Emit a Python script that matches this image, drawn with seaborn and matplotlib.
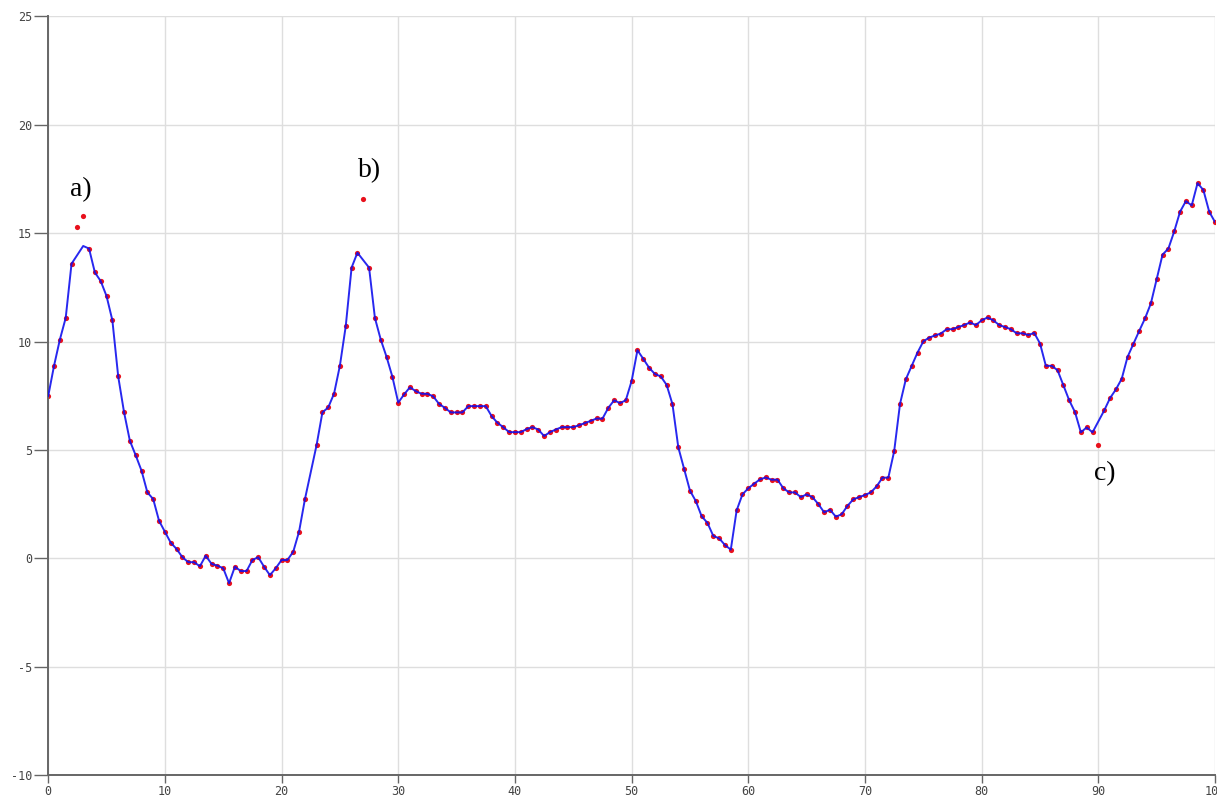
import numpy as np
import pandas as pd
import matplotlib
matplotlib.use("Agg")
import matplotlib.pyplot as plt
import seaborn as sns

# Sample grid: one reading every half unit from 0 to 100
x_step = 0.5

# Filtered signal drawn as the blue trace (NaN = no vertex at that sample)
signal = [
    7.48, 8.88, 10.09, 11.09, 13.59, np.nan, 14.41, 14.29, 13.19, 12.79,
    12.10, 10.98, 8.39, 6.74, 5.42, 4.75, 4.04, 3.04, 2.73, 1.73,
    1.23, 0.72, 0.43, 0.05, -0.18, -0.18, -0.37, 0.12, -0.26, -0.34,
    -0.46, -1.15, -0.39, -0.59, -0.59, -0.08, 0.05, -0.39, -0.78, -0.46,
    -0.08, -0.08, 0.30, 1.23, 2.72, np.nan, 5.22, 6.73, 6.96, 7.60,
    8.89, 10.71, 13.41, 14.10, np.nan, 13.41, 11.09, 10.09, 9.29, 8.37,
    7.18, 7.56, 7.89, 7.71, 7.59, 7.59, 7.47, 7.12, 6.94, 6.73,
    6.73, 6.73, 7.02, 7.02, 7.02, 7.02, 6.56, 6.25, 6.05, 5.82,
    5.82, 5.82, 5.96, 6.05, 5.94, 5.64, 5.82, 5.94, 6.05, 6.05,
    6.05, 6.14, 6.24, 6.34, 6.45, 6.44, 6.94, 7.29, 7.16, 7.29,
    8.18, 9.60, 9.20, 8.79, 8.50, 8.39, 8.00, 7.11, 5.12, 4.12,
    3.12, 2.64, 1.94, 1.63, 1.03, 0.92, 0.61, 0.40, 2.21, 2.95,
    3.23, 3.44, 3.64, 3.73, 3.62, 3.63, 3.23, 3.04, 3.04, 2.82,
    2.95, 2.82, 2.50, 2.12, 2.24, 1.92, 2.03, 2.42, 2.72, 2.82,
    2.92, 3.04, 3.32, 3.72, 3.72, 4.94, 7.12, 8.26, 8.88, 9.49,
    10.01, 10.18, 10.28, 10.37, 10.57, 10.57, 10.67, 10.76, 10.88, 10.76,
    10.98, 11.11, 10.98, 10.76, 10.67, 10.57, 10.38, 10.38, 10.30, 10.40,
    9.91, 8.88, 8.88, 8.68, 7.99, 7.29, 6.74, 5.81, 6.04, 5.81,
    np.nan, 6.82, 7.39, 7.79, 8.28, 9.29, 9.89, 10.49, 11.07, 11.76,
    12.88, 14.01, 14.29, 15.08, 15.99, 16.48, 16.28, 17.31, 16.99, 15.99,
    15.51,
]

# Raw readings that depart from the trace
outlier_idx = [5, 6, 54, 180]
outlier_vals = [15.28, 15.79, 16.59, 5.24]
# Trace vertices with no reading of their own
no_reading_idx = [6, 45]

# Callout labels
label_text = ["a)", "b)", "c)"]
label_x = [2.76, 27.56, 90.52]
label_y = [17.0, 17.87, 3.91]

x_ticks = list(range(0, 101, 10))
y_ticks = list(range(-10, 26, 5))

n = len(signal)
x = np.arange(n) * x_step
sig = np.array(signal, dtype=float)

line_df = pd.DataFrame({"x": x, "y": sig}).dropna()

raw = sig.copy()
raw[no_reading_idx] = np.nan
raw[outlier_idx] = outlier_vals
dots_df = pd.DataFrame({"x": x, "y": raw}).dropna()

sns.set_theme(style="whitegrid")
plt.rcParams["font.family"] = ["DejaVu Sans Mono", "DejaVu Sans"]
plt.rcParams["axes.unicode_minus"] = False

fig = plt.figure(figsize=(12.17, 7.96), dpi=100)
ax = fig.add_axes([0.0396, 0.0264, 0.9588, 0.9529])
ax.set_facecolor("white")

sns.scatterplot(data=dots_df, x="x", y="y", ax=ax, color="#e8101c", s=14,
                linewidth=0, zorder=2, legend=False)
sns.lineplot(data=line_df, x="x", y="y", ax=ax, color="#1010ee", lw=1.4,
             alpha=0.9, sort=False, estimator=None, zorder=3, legend=False)

for t, lx, ly in zip(label_text, label_x, label_y):
    ax.text(lx, ly, t, ha="center", va="center", fontsize=20,
            family="Liberation Serif", color="black", zorder=4)

ax.set_xlim(0, 100)
ax.set_ylim(-10, 25)
ax.set_xticks(x_ticks)
ax.set_yticks(y_ticks)
ax.set_xlabel("")
ax.set_ylabel("")

ax.grid(True, color="#dedede", linewidth=1.0)
for side in ("top", "right"):
    ax.spines[side].set_visible(False)
for side in ("left", "bottom"):
    ax.spines[side].set_visible(True)
    ax.spines[side].set_color("#666666")
    ax.spines[side].set_linewidth(1.4)

ax.tick_params(axis="y", which="major", direction="out", length=10,
               width=1.0, color="#666666", labelsize=8.5, labelcolor="#444444",
               left=True, pad=1.5)
ax.tick_params(axis="x", which="major", direction="out", length=6,
               width=1.0, color="#666666", labelsize=8.5, labelcolor="#444444",
               bottom=True, pad=1.5)

fig.savefig("out.png", dpi=100)
